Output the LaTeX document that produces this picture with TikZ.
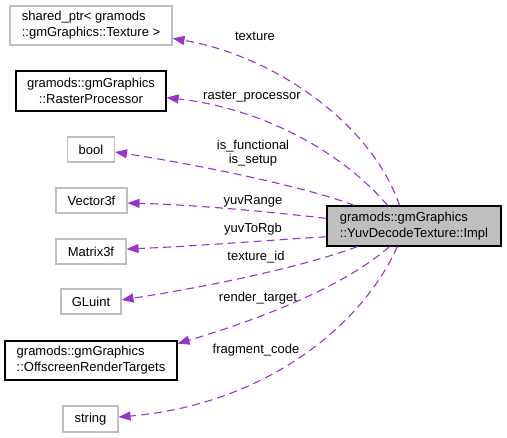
\documentclass[tikz,border=0pt]{standalone}
\usepackage{fontspec}
\setmainfont{Liberation Sans}
\usetikzlibrary{arrows.meta}
\definecolor{edgecol}{HTML}{9A32CD}
\definecolor{grey75}{HTML}{BFBFBF}

\begin{document}
\begin{tikzpicture}[x=1pt, y=-1pt,
    cls/.style={draw=grey75, line width=1.1pt, inner sep=0pt, align=left, font=\fontsize{13}{16}\selectfont},
    doc/.style={cls, draw=black},
    focus/.style={doc, fill=grey75},
    member/.style={draw=edgecol, line width=1.1pt, dash pattern=on 8pt off 5pt, -{Triangle[length=12pt, width=9pt]}},
    lbl/.style={font=\fontsize{13}{14.5}\selectfont, align=center, inner sep=0pt}
]
\useasboundingbox (0,0) rectangle (507,438);

\node[focus, minimum width=174pt, minimum height=40pt] (impl) at (414,226) {gramods::gmGraphics\\::YuvDecodeTexture::Impl};

\node[cls, minimum width=162pt, minimum height=39pt] (shared) at (91,25.5) {shared\_ptr< gramods\\::gmGraphics::Texture >};
\node[doc, align=center, minimum width=150pt, minimum height=40pt] (raster) at (91,91) {gramods::gmGraphics\\::RasterProcessor};
\node[cls, minimum width=47pt, minimum height=25pt] (bool) at (91,149.5) {bool};
\node[cls, minimum width=71pt, minimum height=25pt] (vector) at (91.5,200.5) {Vector3f};
\node[cls, minimum width=70pt, minimum height=25pt] (matrix) at (91,251.5) {Matrix3f};
\node[cls, minimum width=60pt, minimum height=25pt] (gluint) at (91,301.5) {GLuint};
\node[doc, minimum width=172pt, minimum height=39pt] (offscreen) at (91,360.5) {gramods::gmGraphics\\::OffscreenRenderTargets};
\node[cls, minimum width=55pt, minimum height=26pt] (string) at (90.5,419) {string};

% members of Impl
\draw[member] (impl.125) .. controls (370,120) and (270,55) .. (shared.-9);
\draw[member] (impl.142) .. controls (340,150) and (260,108) .. (raster.-5);
\draw[member] (impl.161) .. controls (310,188) and (200,165) .. (bool.-6);
\draw[member] (impl.175) .. controls (270,212) and (200,205) .. (vector.-4);
\draw[member] (impl.187) .. controls (270,240) and (200,246) .. (matrix.4);
\draw[member] (impl.200) .. controls (300,268) and (200,288) .. (gluint.3);
\draw[member] (impl.220) .. controls (340,290) and (250,322) .. (offscreen.11);
\draw[member] (impl.231) .. controls (360,330) and (260,405) .. (string.4);

\node[lbl] (ltexture) at (255,36) {texture};
\node[lbl] (lraster) at (252,97) {raster\_processor};
\node[lbl] (lbool) at (253,153) {is\_functional\\is\_setup};
\node[lbl] (lvector) at (253,201) {yuvRange};
\node[lbl] (lmatrix) at (253,229) {yuvToRgb};
\node[lbl] (lgluint) at (256,257) {texture\_id};
\node[lbl] (loffscreen) at (258,298) {render\_target};
\node[lbl] (lstring) at (256,350) {fragment\_code};
\end{tikzpicture}
\end{document}
